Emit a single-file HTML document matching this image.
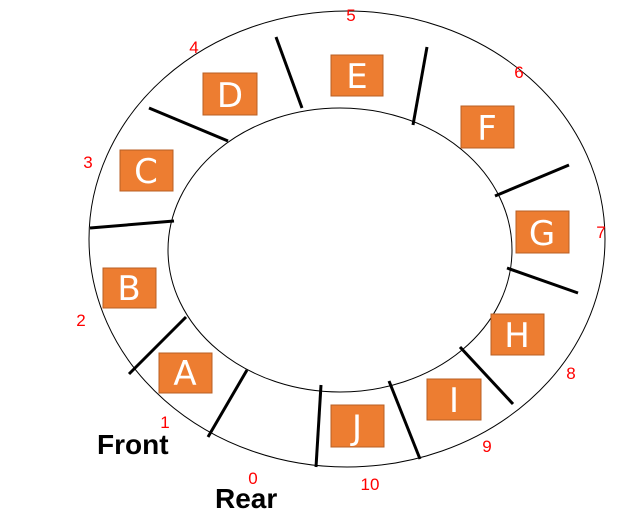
<!DOCTYPE html>
<html><head><style>
html,body{margin:0;padding:0;background:#fff;}
svg{display:block;}
.n{font-family:"Liberation Sans",sans-serif;font-size:17px;fill:#f00;text-anchor:middle;}
.l{font-family:"DejaVu Sans","Liberation Sans",sans-serif;font-size:34px;fill:#fff;text-anchor:middle;}
.b{fill:#ED7D31;stroke:#B85F24;stroke-width:1;}
.t{font-family:"Liberation Sans",sans-serif;font-weight:bold;font-size:28px;fill:#000;}
</style></head><body>
<svg width="633" height="513" viewBox="0 0 633 513">
<ellipse cx="347" cy="239" rx="258" ry="228" fill="none" stroke="#000" stroke-width="1"/>
<ellipse cx="340" cy="250" rx="172" ry="142" fill="none" stroke="#000" stroke-width="1"/>
<g stroke="#000" stroke-width="3">
<line x1="276" y1="37" x2="302" y2="108"/>
<line x1="427" y1="47" x2="413" y2="125"/>
<line x1="569" y1="165" x2="495" y2="196"/>
<line x1="578" y1="293" x2="507" y2="268"/>
<line x1="513" y1="404" x2="460" y2="347"/>
<line x1="420" y1="459" x2="389" y2="381"/>
<line x1="316" y1="467" x2="321" y2="385"/>
<line x1="208" y1="437" x2="247" y2="370"/>
<line x1="129" y1="374" x2="186" y2="317"/>
<line x1="90" y1="228" x2="174" y2="221"/>
<line x1="228" y1="141" x2="149" y2="108"/>
</g>
<g>
<rect class="b" x="203" y="73" width="54" height="42"/><text class="l" x="230" y="107">D</text>
<rect class="b" x="331" y="55" width="52" height="41"/><text class="l" x="357" y="88">E</text>
<rect class="b" x="461" y="106" width="53" height="42"/><text class="l" x="487" y="140">F</text>
<rect class="b" x="120" y="150" width="53" height="41"/><text class="l" x="146" y="183">C</text>
<rect class="b" x="516" y="211" width="53" height="42"/><text class="l" x="542" y="245">G</text>
<rect class="b" x="103" y="268" width="53" height="40"/><text class="l" x="129" y="300">B</text>
<rect class="b" x="491" y="314" width="53" height="41"/><text class="l" x="517" y="347">H</text>
<rect class="b" x="159" y="353" width="53" height="40"/><text class="l" x="185" y="385">A</text>
<rect class="b" x="427" y="379" width="54" height="41"/><text class="l" x="454" y="412">I</text>
<rect class="b" x="331" y="405" width="53" height="42"/><text class="l" x="357" y="439">J</text>
</g>
<text class="n" x="351" y="21">5</text>
<text class="n" x="519" y="78">6</text>
<text class="n" x="194" y="53">4</text>
<text class="n" x="88" y="168">3</text>
<text class="n" x="601" y="238">7</text>
<text class="n" x="81" y="326">2</text>
<text class="n" x="571" y="379">8</text>
<text class="n" x="165" y="428">1</text>
<text class="n" x="487" y="452">9</text>
<text class="n" x="253" y="484">0</text>
<text class="n" x="370" y="490">10</text>
<text class="t" x="97" y="454">Front</text>
<text class="t" x="215" y="508">Rear</text>
</svg>
</body></html>
